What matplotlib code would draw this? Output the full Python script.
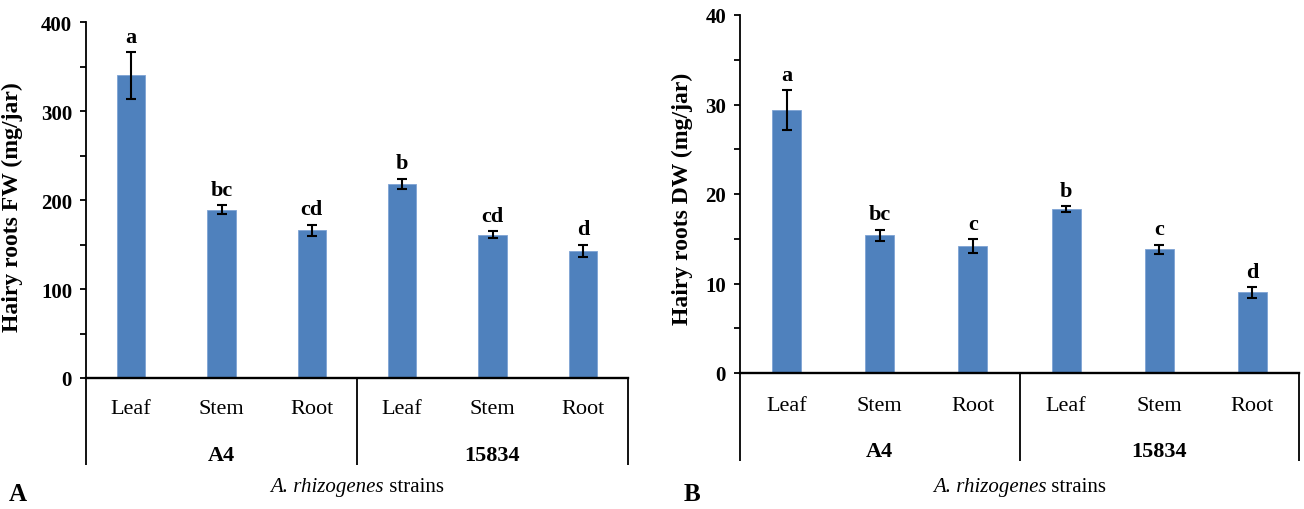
import matplotlib
matplotlib.use('Agg')
import matplotlib.pyplot as plt
import matplotlib.transforms as mtrans
from matplotlib.ticker import MultipleLocator

plt.rcParams['font.family'] = ['Liberation Serif', 'DejaVu Serif']

# ---- data ----
tissues = ['Leaf', 'Stem', 'Root', 'Leaf', 'Stem', 'Root']
strains = ['A4', '15834']
fw_mean = [340, 189, 166, 218, 161, 143]
fw_err = [26, 5, 6, 6, 4, 6.5]
fw_letters = ['a', 'bc', 'cd', 'b', 'cd', 'd']
dw_mean = [29.4, 15.4, 14.2, 18.3, 13.8, 9.0]
dw_err = [2.2, 0.6, 0.75, 0.35, 0.5, 0.6]
dw_letters = ['a', 'bc', 'c', 'b', 'c', 'd']
fw_yticks = [0, 100, 200, 300, 400]
dw_yticks = [0, 10, 20, 30, 40]
xlabel_italic = 'A. rhizogenes'
xlabel_plain = ' strains'

BAR = '#4F81BD'
W, H = 1304, 510

titles = []


def panel(rect, means, errs, letters, yticks, minor, ylabel, ylab_xy,
          cat_y, grp_y, title_y, line_bot):
    ax = fig.add_axes(rect)
    x = list(range(len(means)))
    ax.bar(x, means, width=0.31, color=BAR, edgecolor='#7EA3D4', linewidth=0.6, zorder=2)
    ax.errorbar(x, means, yerr=errs, fmt='none', ecolor='black', elinewidth=1.5,
                capsize=3.5, capthick=1.5, zorder=3)
    for xi, m, e, l in zip(x, means, errs, letters):
        ax.annotate(l, (xi, m + e), xytext=(0, 4), textcoords='offset points',
                    ha='center', va='bottom', fontsize=16, fontweight='bold')
    ax.set_xlim(-0.5, len(means) - 0.5)
    ax.set_ylim(yticks[0], yticks[-1])
    ax.set_yticks(yticks)
    ax.set_yticklabels([str(t) for t in yticks], fontweight='bold', fontsize=15)
    ax.yaxis.set_minor_locator(MultipleLocator(minor))
    ax.set_xticks([])
    for s in ['top', 'right']:
        ax.spines[s].set_visible(False)
    ax.spines['left'].set_linewidth(1.3)
    ax.spines['bottom'].set_linewidth(1.7)
    ax.tick_params(axis='y', which='both', direction='out', length=4, width=1.3, pad=6)
    ax.set_ylabel(ylabel, fontsize=17, fontweight='bold')
    ax.yaxis.set_label_coords(*ylab_xy)
    tr = mtrans.blended_transform_factory(ax.transData, ax.transAxes)
    for xi, t in zip(x, tissues):
        ax.text(xi, cat_y, t, transform=tr, ha='center', va='center', fontsize=16)
    n = len(strains)
    per = len(means) // n
    for g, s in enumerate(strains):
        ax.text(g * per + (per - 1) / 2, grp_y, s, transform=tr, ha='center',
                va='center', fontsize=16, fontweight='bold')
    for b in range(n + 1):
        xb = b * per - 0.5
        ax.plot([xb, xb], [0, line_bot], transform=tr, color='black', lw=1.3,
                clip_on=False, solid_capstyle='butt')
    t1 = ax.text(0.5, title_y, xlabel_italic, transform=ax.transAxes, ha='left',
                 va='center', fontsize=15, style='italic')
    t2 = ax.text(0.5, title_y, xlabel_plain, transform=ax.transAxes, ha='left',
                 va='center', fontsize=15)
    titles.append((ax, t1, t2, title_y))
    return ax


fig = plt.figure(figsize=(W / 100, H / 100), dpi=100)

# panel A: axes px x 86..628, y 23..379
panel([86 / W, 1 - 379 / H, 542 / W, 356 / H], fw_mean, fw_err, fw_letters,
      fw_yticks, 50, 'Hairy roots FW (mg/jar)', (-0.116, 0.483),
      -0.085, -0.215, -0.306, -0.244)
# panel B: axes px x 740..1299, y 16..374
panel([740 / W, 1 - 374 / H, 559 / W, 358 / H], dw_mean, dw_err, dw_letters,
      dw_yticks, 5, 'Hairy roots DW (mg/jar)', (-0.084, 0.49),
      -0.09, -0.217, -0.316, -0.246)

fig.text(18 / W, 1 - 495 / H, 'A', fontsize=18, fontweight='bold', ha='center', va='center')
fig.text(692 / W, 1 - 495 / H, 'B', fontsize=18, fontweight='bold', ha='center', va='center')

# center the mixed-style x titles
fig.canvas.draw()
r = fig.canvas.get_renderer()
for ax, t1, t2, ty in titles:
    w1 = t1.get_window_extent(r).width
    w2 = t2.get_window_extent(r).width
    tot = w1 + w2
    t1.set_transform(mtrans.offset_copy(ax.transAxes, fig=fig, x=-tot / 2, y=0, units='dots'))
    t2.set_transform(mtrans.offset_copy(ax.transAxes, fig=fig, x=-tot / 2 + w1, y=0, units='dots'))

fig.savefig('out.png', dpi=100)
